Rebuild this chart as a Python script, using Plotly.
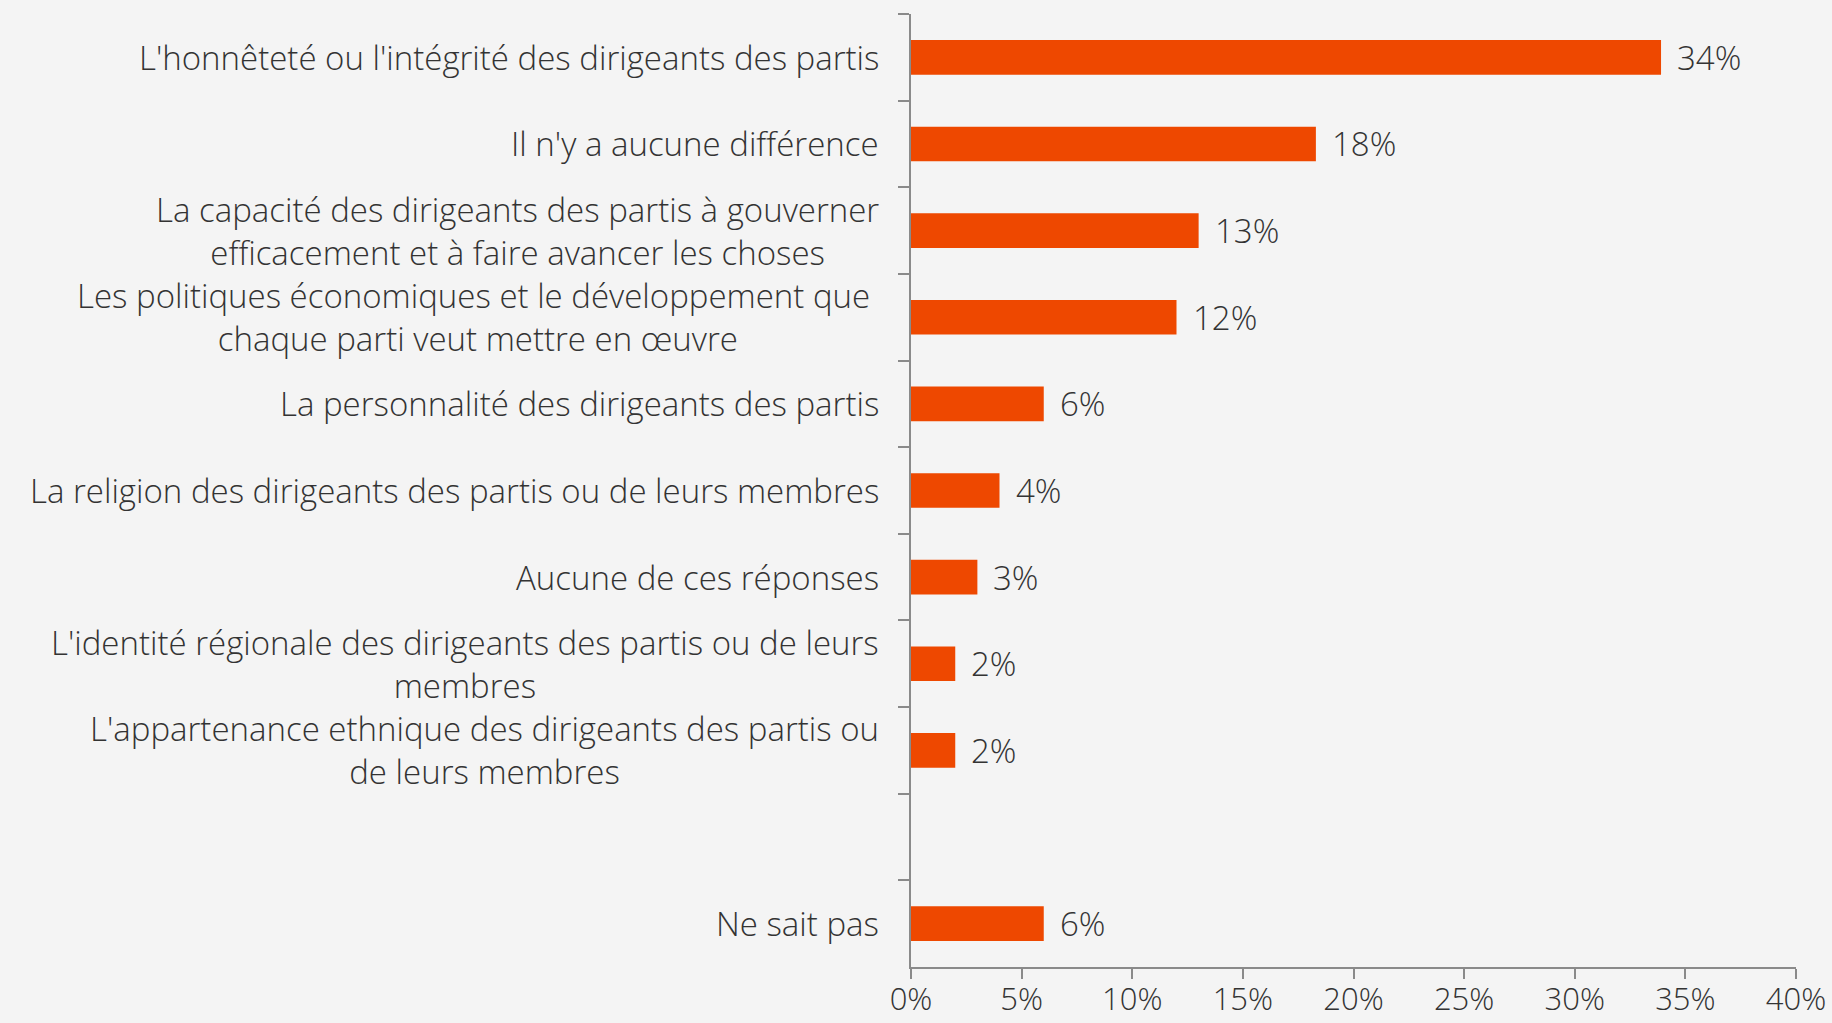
import plotly.graph_objects as go

categories = [
    "L'honnêteté ou l'intégrité des dirigeants des partis",
    "Il n'y a aucune différence",
    "La capacité des dirigeants des partis à gouverner<br>efficacement et à faire avancer les choses",
    "Les politiques économiques et le développement que <br>chaque parti veut mettre en œuvre",
    "La personnalité des dirigeants des partis",
    "La religion des dirigeants des partis ou de leurs membres",
    "Aucune de ces réponses",
    "L'identité régionale des dirigeants des partis ou de leurs<br>membres",
    "L'appartenance ethnique des dirigeants des partis ou<br>de leurs membres",
    " ",
    "Ne sait pas",
]
values = [33.9, 18.3, 13.0, 12.0, 6.0, 4.0, 3.0, 2.0, 2.0, None, 6.0]
x_ticks = [0, 5, 10, 15, 20, 25, 30, 35, 40]
x_tick_labels = [f"{t}%" for t in x_ticks]

BAR = "#EE4800"
TXT = "#333333"
AX = "#8a8a8a"
BG = "#f4f4f4"
FONT = "Open Sans"
FS = 33

bar_x = [v if v is not None else 0 for v in values]

fig = go.Figure(go.Bar(
    x=bar_x, y=categories, orientation="h",
    marker=dict(color=BAR, line=dict(width=0)),
    hoverinfo="skip",
))

annotations = []
for c, v in zip(categories, values):
    if c.strip():
        annotations.append(dict(
            x=0, xref="paper", y=c, yref="y", xanchor="right", yanchor="middle",
            xshift=-30, text=c, showarrow=False, align="center",
            font=dict(family=FONT, size=FS, color=TXT, weight=300),
        ))
    if v is not None:
        annotations.append(dict(
            x=v, xref="x", y=c, yref="y", xanchor="left", yanchor="middle",
            xshift=14, text=f"{round(v)}%", showarrow=False,
            font=dict(family=FONT, size=FS, color=TXT, weight=300),
        ))

fig.update_layout(
    width=1832, height=1023,
    margin=dict(l=911, r=36, t=14, b=56, autoexpand=False),
    paper_bgcolor=BG, plot_bgcolor=BG,
    showlegend=False, bargap=0.6,
    annotations=annotations,
    font=dict(family=FONT, color=TXT),
)
fig.update_xaxes(
    range=[0, 40], tickvals=x_ticks, ticktext=x_tick_labels, automargin=False,
    showgrid=False, zeroline=False, showline=True, linecolor=AX, linewidth=2,
    ticks="outside", ticklen=10, tickcolor=AX, tickwidth=2,
    ticklabelstandoff=-6,
    tickfont=dict(family=FONT, size=31, color=TXT, weight=300),
)
fig.update_yaxes(
    type="category", categoryorder="array", categoryarray=categories,
    autorange="reversed", showticklabels=False, automargin=False,
    showgrid=False, zeroline=False, showline=True, linecolor=AX, linewidth=2,
    ticks="outside", tickson="boundaries", ticklen=11, tickcolor=AX, tickwidth=2,
)

fig.write_html(
    "out.html",
    config={"displayModeBar": False},
    post_script="document.body.style.margin='0';document.body.style.background='" + BG + "';",
)
